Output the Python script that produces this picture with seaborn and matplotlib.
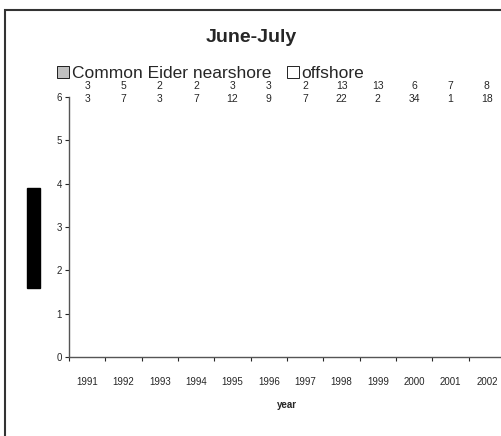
import matplotlib
matplotlib.use('Agg')
import matplotlib.pyplot as plt
import pandas as pd
import seaborn as sns
from matplotlib.patches import Rectangle

years = ['1991', '1992', '1993', '1994', '1995', '1996', '1997', '1998', '1999', '2000', '2001', '2002']
nearshore = [0, 0, 0, 0, 0, 0, 0, 0, 0, 0, 0, 0]
offshore = [0, 0, 0, 0, 0, 0, 0, 0, 0, 0, 0, 0]
n_nearshore = [3, 5, 2, 2, 3, 3, 2, 13, 13, 6, 7, 8]
n_offshore = [3, 7, 3, 7, 12, 9, 7, 22, 2, 34, 1, 18]

df = pd.DataFrame({
    'year': years * 2,
    'value': nearshore + offshore,
    'group': ['Common Eider nearshore'] * len(years) + ['offshore'] * len(years),
})

sns.set_style('white')
plt.rcParams['font.family'] = ['Liberation Sans', 'DejaVu Sans']

fig = plt.figure(figsize=(5.02, 4.36), dpi=100)
ax = fig.add_axes([0.1375, 0.181, 0.8685, 0.5965])

sns.barplot(data=df, x='year', y='value', hue='group',
            palette=['#C0C0C0', '#FFFFFF'], edgecolor='black', linewidth=0.6,
            ax=ax, legend=True)

ax.set_xlim(-0.5, 11.5)
ax.set_ylim(0, 6)
ax.set_yticks(range(0, 7))
ax.tick_params(axis='both', labelsize=7, length=3, width=0.8, direction='out',
               left=True, bottom=True, pad=2)
for s in ['left', 'bottom']:
    ax.spines[s].set_color('#555555')
    ax.spines[s].set_linewidth(1)
ax.spines['top'].set_visible(False)
ax.spines['right'].set_visible(False)

# x ticks sit between categories, labels at category centres
ax.set_xticks([i - 0.5 for i in range(13)], minor=False)
ax.set_xticklabels([])
ax.set_xticks(range(12), minor=True)
ax.set_xticklabels(years, minor=True)
ax.tick_params(axis='x', which='minor', length=0, labelsize=7, pad=14)

ax.set_xlabel('year', fontsize=7, fontweight='bold', labelpad=10)
ax.set_ylabel('mean density (birds / km)', fontsize=6, color='black',
              bbox=dict(facecolor='black', edgecolor='black', pad=2))
ax.yaxis.set_label_coords(-0.073, 0.458)

# sample sizes above plot
for i in range(len(years)):
    ax.text(i, 6.25, str(n_nearshore[i]), ha='center', va='center', fontsize=7.5)
    ax.text(i, 5.95, str(n_offshore[i]), ha='center', va='center', fontsize=7.5)

fig.text(0.5, 0.915, 'June-July', ha='center', va='center', fontsize=14, fontweight='bold')

leg = ax.legend(loc='center left', bbox_to_anchor=(0.1, 0.832), bbox_transform=fig.transFigure,
                ncol=2, frameon=False, fontsize=12.5, handlelength=0.7, handleheight=0.7,
                handletextpad=0.15, columnspacing=0.9, borderaxespad=0)

fig.patches.append(Rectangle((5 / 502, -0.1), 1.2, 1 - 10 / 436 + 0.1, transform=fig.transFigure,
                             fill=False, edgecolor='#333333', linewidth=1.5))

fig.savefig('out.png', dpi=100)
